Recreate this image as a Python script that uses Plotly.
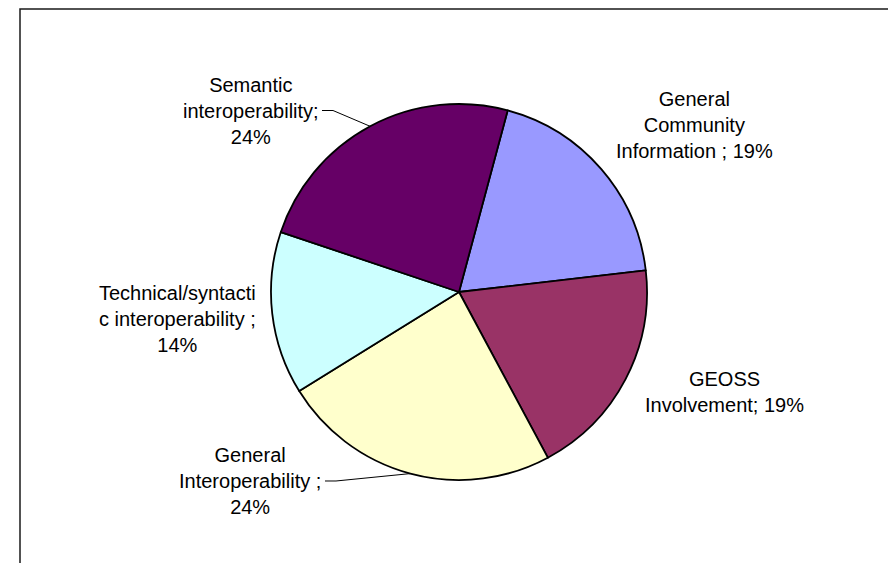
import math
import plotly.graph_objects as go

# Survey topics and their share of responses (%), clockwise from the first slice
categories = [
    "General Community Information",
    "GEOSS Involvement",
    "General Interoperability",
    "Technical/syntactic interoperability",
    "Semantic interoperability",
]
shares = [19, 19, 24, 14, 24]
colors = ["#9999FF", "#993366", "#FFFFCC", "#CCFFFF", "#660066"]

# Data-label wording (line breaks as laid out on the chart)
label_templates = [
    "General<br>Community<br>Information ; {}%",
    "GEOSS<br>Involvement; {}%",
    "General<br>Interoperability ;<br>{}%",
    "Technical/syntacti<br>c interoperability ;<br>{}%",
    "Semantic<br>interoperability;<br>{}%",
]

# ---- layout (pixels) ----
W, H = 888, 563
CX, CY, R = 459, 292, 188          # pie centre and radius
ROTATION = 15                       # first slice starts 15 deg clockwise of 12 o'clock
label_pos = [(694, 125), (724, 392), (250, 481), (177, 319), (251, 111)]
leader_start = {4: (322, 110.5), 2: (325, 481)}   # label index -> text end of leader line


def to_paper(x, y):
    return x / W, 1 - y / H


fig = go.Figure()
fig.add_trace(go.Pie(
    labels=categories,
    values=shares,
    sort=False,
    direction="clockwise",
    rotation=ROTATION,
    marker=dict(colors=colors, line=dict(color="#000000", width=1.8)),
    textinfo="none",
    hoverinfo="skip",
    showlegend=False,
    domain=dict(
        x=[(CX - R - 20) / W, (CX + R + 20) / W],
        y=[(H - CY - R) / H, (H - CY + R) / H],
    ),
))

# mid-angle of each slice (degrees clockwise from 12 o'clock)
total = sum(shares)
mid_angles = []
acc = 0
for v in shares:
    mid_angles.append(ROTATION + (acc + v / 2) / total * 360)
    acc += v

annotations = []
for i, (tmpl, v) in enumerate(zip(label_templates, shares)):
    x, y = to_paper(*label_pos[i])
    annotations.append(dict(
        x=x, y=y, xref="paper", yref="paper",
        text=tmpl.format(v), showarrow=False,
        xanchor="center", yanchor="middle", align="center",
        font=dict(family="Liberation Sans, Arial, sans-serif", size=20, color="#000000"),
    ))

shapes = []
# leader lines from label text to the slice edge at its mid-angle
for i, (sx, sy) in leader_start.items():
    a = math.radians(mid_angles[i])
    ex, ey = CX + R * math.sin(a), CY - R * math.cos(a)
    pts = [(sx, sy), (sx + 11, sy), (ex, ey)]
    path = "M " + " L ".join("{:.5f},{:.5f}".format(*to_paper(px, py)) for px, py in pts)
    shapes.append(dict(type="path", path=path, xref="paper", yref="paper",
                       line=dict(color="#000000", width=1)))

# chart-area frame (open at the right and bottom edges of the page)
fx0, fy1 = to_paper(20, 9)
shapes.append(dict(type="rect", xref="paper", yref="paper",
                   x0=fx0, x1=1.05, y0=-0.05, y1=fy1,
                   line=dict(color="#1a1a1a", width=1.5), fillcolor="rgba(0,0,0,0)"))

fig.update_layout(
    width=W, height=H,
    margin=dict(l=0, r=0, t=0, b=0),
    paper_bgcolor="#FFFFFF",
    plot_bgcolor="#FFFFFF",
    annotations=annotations,
    shapes=shapes,
)

fig.write_html("out.html")
